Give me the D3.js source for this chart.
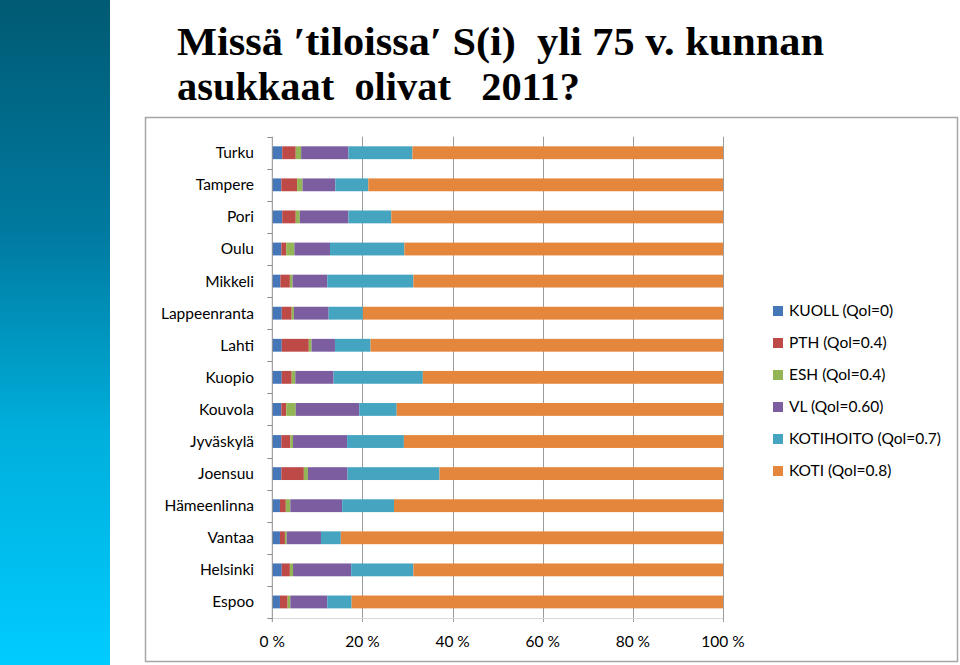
<!DOCTYPE html>
<html><head><meta charset="utf-8">
<script src="https://cdn.jsdelivr.net/npm/d3@7"></script>
<style>html,body{margin:0;padding:0;background:#fff;}svg{display:block;}</style>
</head><body>
<svg id="c" width="960" height="665"></svg>
<script>
const categories = ["Turku","Tampere","Pori","Oulu","Mikkeli","Lappeenranta","Lahti","Kuopio","Kouvola","Jyväskylä","Joensuu","Hämeenlinna","Vantaa","Helsinki","Espoo"];
const seriesNames = ["KUOLL (Qol=0)","PTH (Qol=0.4)","ESH (Qol=0.4)","VL (Qol=0.60)","KOTIHOITO (Qol=0.7)","KOTI (Qol=0.8)"];
const kuoll     = [2.2,2.0,2.2,2.0,1.8,2.1,2.1,2.1,2.0,2.0,2.0,1.7,1.7,2.1,1.7];
const pth       = [3.0,3.5,3.0,1.1,2.1,2.2,6.0,2.2,1.1,2.0,5.0,1.3,1.1,1.8,1.7];
const esh       = [1.2,1.2,0.9,1.8,0.6,0.5,0.6,0.8,2.1,0.6,0.9,1.0,0.4,0.7,0.6];
const vl        = [10.5,7.3,10.8,7.9,7.7,7.7,5.2,8.5,14.1,12.0,8.8,11.5,7.6,12.9,8.2];
const kotihoito = [14.2,7.3,9.5,16.5,19.1,7.6,7.9,19.8,8.3,12.6,20.4,11.5,4.4,13.8,5.4];
const koti      = [68.9,78.7,73.6,70.7,68.7,79.9,78.2,66.6,72.4,70.8,62.9,73.0,84.8,68.7,82.4];
const xTicks = [0,20,40,60,80,100];
const tickLabels = ["0 %","20 %","40 %","60 %","80 %","100 %"];
const colors = ["#4577b8","#bd4a47","#93b555","#7c5ea0","#45a4c0","#e5863d"];

const svg = d3.select("#c");
const defs = svg.append("defs");
const grad = defs.append("linearGradient").attr("id","side").attr("x1",0).attr("y1",0).attr("x2",0).attr("y2",1);
grad.append("stop").attr("offset","0%").attr("stop-color","#005a73");
grad.append("stop").attr("offset","35%").attr("stop-color","#007aa0");
grad.append("stop").attr("offset","65%").attr("stop-color","#00afdc");
grad.append("stop").attr("offset","100%").attr("stop-color","#00ccff");
svg.append("rect").attr("x",0).attr("y",0).attr("width",110).attr("height",665).attr("fill","url(#side)");

// title
const tfont = "'Liberation Serif','DejaVu Serif',serif";
svg.append("text").attr("x",177).attr("y",55).attr("font-family",tfont).attr("font-weight","bold")
  .attr("font-size",41).attr("textLength",647).attr("lengthAdjust","spacingAndGlyphs").attr("fill","#000")
  .style("white-space","pre").text("Missä \u2032tiloissa\u2032 S(i)  yli 75 v. kunnan");
svg.append("text").attr("x",177).attr("y",100).attr("font-family",tfont).attr("font-weight","bold")
  .attr("font-size",41).attr("textLength",403).attr("lengthAdjust","spacingAndGlyphs").attr("fill","#000")
  .style("white-space","pre").text("asukkaat  olivat   2011?");

// frame
svg.append("rect").attr("x",145.5).attr("y",117.5).attr("width",812).attr("height",544)
  .attr("fill","#fff").attr("stroke","#a6a6a6").attr("stroke-width",1.5);

const x0 = 272.3, x1 = 723, yTop = 136.7, yBot = 618;
const x = d3.scaleLinear().domain([0,100]).range([x0,x1]);
const y = d3.scaleBand().domain(categories).range([yTop,yBot]).paddingInner(0.6).paddingOuter(0.3);

const lf = "Lato,'Open Sans',sans-serif";

// gridlines
svg.append("g").selectAll("line").data(xTicks.slice(1)).join("line")
  .attr("x1",d=>Math.round(x(d))+0.5).attr("x2",d=>Math.round(x(d))+0.5)
  .attr("y1",yTop).attr("y2",yBot+4).attr("stroke","#9c9c9c").attr("stroke-width",1);
svg.append("line").attr("x1",x0).attr("x2",x1).attr("y1",yBot+0.5).attr("y2",yBot+0.5).attr("stroke","#d9d9d9");

// stacked data
const table = categories.map((c,i)=>({cat:c, s0:kuoll[i], s1:pth[i], s2:esh[i], s3:vl[i], s4:kotihoito[i], s5:koti[i]}));
const keys = ["s0","s1","s2","s3","s4","s5"];
const stack = d3.stack().keys(keys)(table);
svg.append("g").selectAll("g").data(stack).join("g").attr("fill",(d,i)=>colors[i])
  .selectAll("rect").data(d=>d).join("rect")
  .attr("x",d=>x(d[0])).attr("width",d=>x(d[1])-x(d[0]))
  .attr("y",d=>y(d.data.cat)).attr("height",y.bandwidth());

// y axis
const ax = svg.append("g");
ax.append("line").attr("x1",x0).attr("x2",x0).attr("y1",yTop).attr("y2",yBot+4).attr("stroke","#8c8c8c");
const bounds = d3.range(categories.length+1).map(i=>yTop + i*y.step());
ax.selectAll("line.t").data(bounds).join("line").attr("class","t")
  .attr("x1",x0-5).attr("x2",x0).attr("y1",d=>Math.round(d)+0.5).attr("y2",d=>Math.round(d)+0.5).attr("stroke","#8c8c8c");
ax.selectAll("text").data(categories).join("text")
  .attr("x",254).attr("y",d=>y(d)+y.bandwidth()/2).attr("dy","0.35em").attr("text-anchor","end")
  .attr("font-family",lf).attr("font-size",15.5).attr("fill","#000").text(d=>d);

// x tick labels
svg.append("g").selectAll("text").data(xTicks).join("text")
  .attr("x",d=>x(d)).attr("y",647).attr("text-anchor","middle")
  .attr("font-family",lf).attr("font-size",15.5).attr("fill","#000").text((d,i)=>tickLabels[i]);

// legend
const lg = svg.append("g");
const ly0 = 311, lstep = 32;
seriesNames.forEach((n,i)=>{
  lg.append("rect").attr("x",773).attr("y",ly0+i*lstep-5).attr("width",10).attr("height",10).attr("fill",colors[i]);
  lg.append("text").attr("x",789).attr("y",ly0+i*lstep).attr("dy","0.35em").attr("font-family",lf)
    .attr("font-size",15.5).attr("fill","#000").text(n);
});
</script>
</body></html>
